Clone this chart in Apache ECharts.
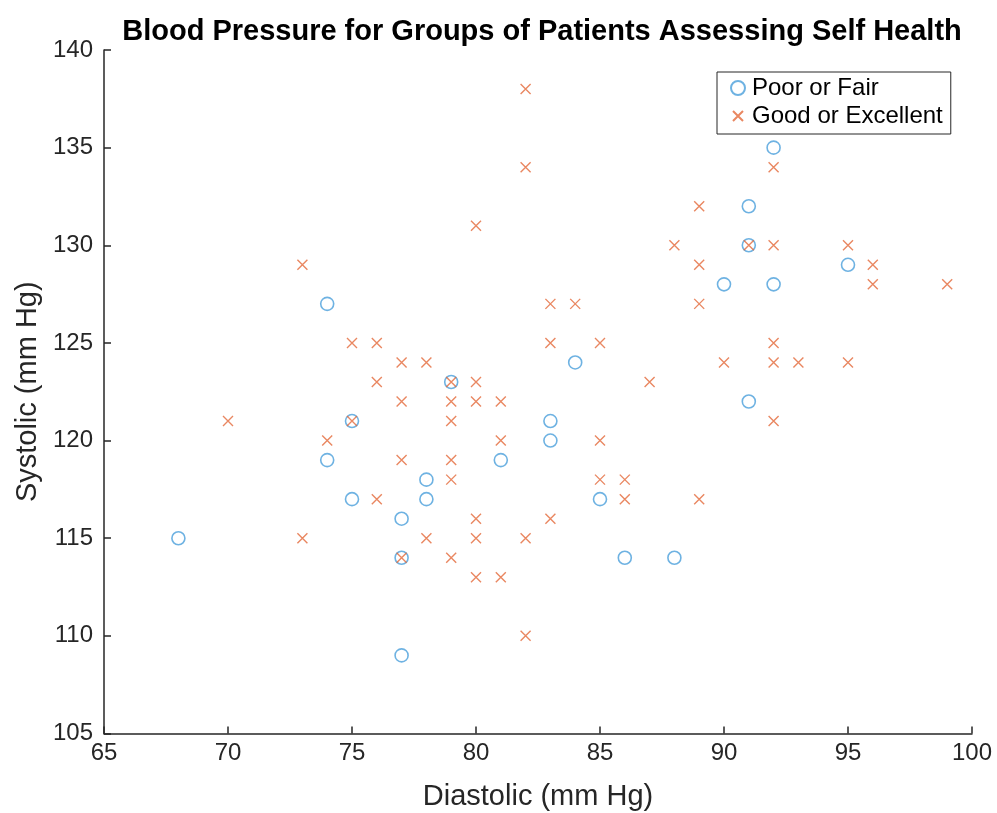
<!DOCTYPE html>
<html>
<head>
<meta charset="utf-8">
<script src="https://cdn.jsdelivr.net/npm/echarts@6/dist/echarts.min.js"></script>
<style>
  html, body { margin: 0; padding: 0; background: #fff; }
  #chart { width: 997px; height: 813px; }
</style>
</head>
<body>
<div id="chart"></div>
<script>
// Poor or Fair: [diastolic, systolic]
var poorFair = [
  [68,115],[74,127],[74,119],[75,121],[75,117],[77,116],[77,114],[77,109],
  [78,118],[78,117],[79,123],[81,119],[83,121],[83,120],[84,124],[85,117],
  [86,114],[88,114],[90,128],[91,132],[91,130],[91,122],[92,135],[92,128],
  [95,129]
];
// Good or Excellent
var goodExcellent = [
  [70,121],[73,129],[73,115],[74,120],[75,125],[75,121],[76,125],[76,123],
  [76,117],[77,124],[77,122],[77,119],[77,114],[78,124],[78,115],[79,123],
  [79,122],[79,121],[79,119],[79,118],[79,114],[80,131],[80,123],[80,122],
  [80,116],[80,115],[80,113],[81,122],[81,120],[81,113],[82,138],[82,134],
  [82,115],[82,110],[83,127],[83,125],[83,116],[84,127],[85,125],[85,120],
  [85,118],[86,118],[86,117],[87,123],[88,130],[89,132],[89,129],[89,127],
  [89,117],[90,124],[91,130],[92,134],[92,130],[92,125],[92,124],[92,121],
  [93,124],[95,130],[95,124],[96,129],[96,128],[99,128]
];

var blue = '#4a9fdb';
var orange = '#e3693a';
var axisColor = '#262626';
var font = 'Liberation Sans, Arial, sans-serif';
var crossPath = 'path://M0,0L10,10M10,0L0,10';
// same cross with empty margin so the legend icon stays small
var crossIcon = 'path://M-2,-2M12,12M0,0L10,10M10,0L0,10';

var chart = echarts.init(document.getElementById('chart'));

var option = {
  animation: false,
  title: {
    text: 'Blood Pressure for Groups of Patients Assessing Self Health',
    left: 537,
    textAlign: 'center',
    top: 12,
    textStyle: { fontFamily: font, fontSize: 29, fontWeight: 'bold', color: '#000' }
  },
  legend: {
    orient: 'vertical',
    left: 717,
    top: 72,
    backgroundColor: '#fff',
    borderColor: '#262626',
    borderWidth: 1,
    borderRadius: 0,
    padding: [4, 8, 6, 13],
    itemGap: 4,
    itemWidth: 14,
    itemHeight: 14,
    textStyle: { fontFamily: font, fontSize: 24, color: '#000', padding: [0, 0, 0, 2] },
    data: [
      { name: 'Poor or Fair' },
      { name: 'Good or Excellent', icon: crossIcon }
    ]
  },
  grid: { left: 104, right: 25, top: 50, bottom: 79.5, containLabel: false, outerBoundsMode: 'none' },
  xAxis: {
    type: 'value',
    min: 65, max: 100, interval: 5,
    name: 'Diastolic (mm Hg)',
    nameLocation: 'middle',
    nameGap: 49,
    nameTextStyle: { fontFamily: font, fontSize: 29, color: axisColor },
    axisLine: { show: true, lineStyle: { color: axisColor, width: 1.5 } },
    axisTick: { show: true, inside: true, length: 7, lineStyle: { color: axisColor, width: 1.5 } },
    axisLabel: { fontFamily: font, fontSize: 24, color: axisColor, margin: 8 },
    splitLine: { show: false }
  },
  yAxis: {
    type: 'value',
    min: 105, max: 140, interval: 5,
    name: 'Systolic (mm Hg)',
    nameLocation: 'middle',
    nameGap: 57,
    nameTextStyle: { fontFamily: font, fontSize: 29, color: axisColor },
    axisLine: { show: true, lineStyle: { color: axisColor, width: 1.5 } },
    axisTick: { show: true, inside: true, length: 7, lineStyle: { color: axisColor, width: 1.5 } },
    axisLabel: { fontFamily: font, fontSize: 24, color: axisColor, margin: 11 },
    splitLine: { show: false }
  },
  series: [
    {
      name: 'Poor or Fair',
      type: 'scatter',
      symbol: 'circle',
      symbolSize: 13,
      itemStyle: { color: 'rgba(0,0,0,0)', borderColor: blue, borderWidth: 1.6 },
      data: poorFair
    },
    {
      name: 'Good or Excellent',
      type: 'scatter',
      symbol: crossPath,
      symbolSize: 10,
      itemStyle: { color: 'rgba(0,0,0,0)', borderColor: orange, borderWidth: 1.4 },
      data: goodExcellent
    }
  ]
};

chart.setOption(option);
</script>
</body>
</html>
